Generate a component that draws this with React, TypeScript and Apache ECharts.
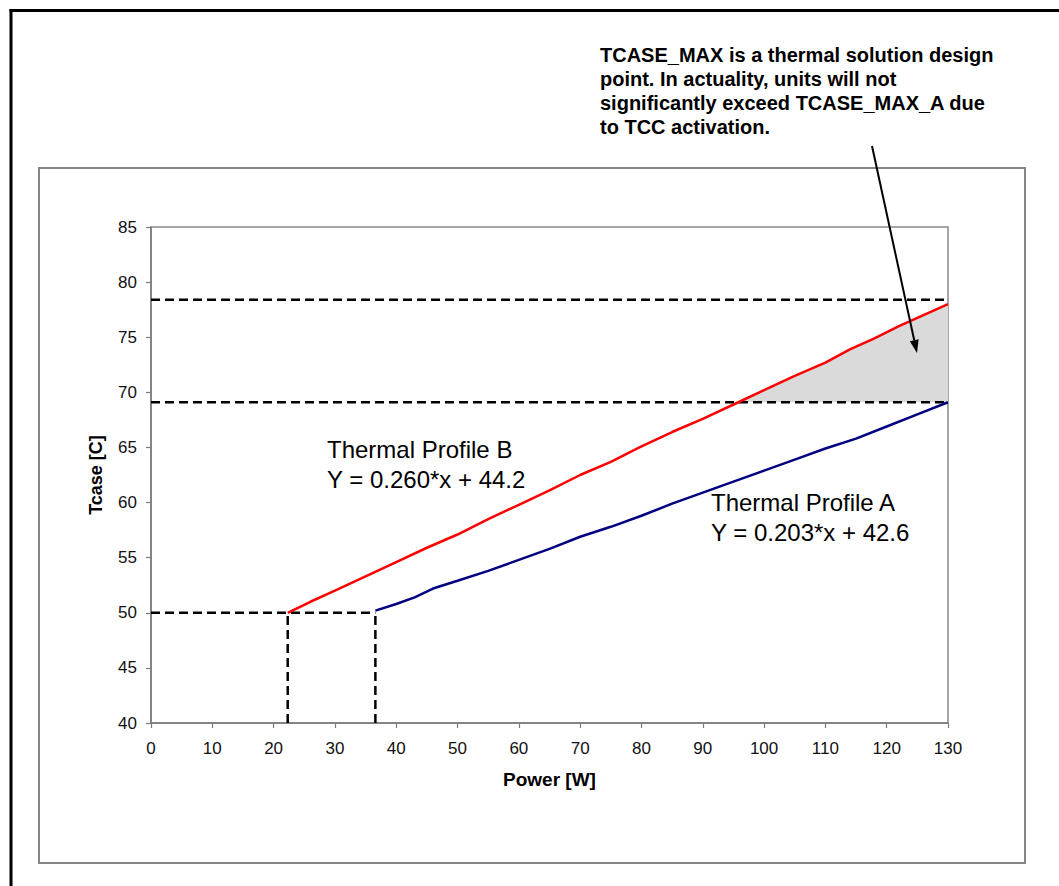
import React, { useEffect, useRef } from "react";
import * as echarts from "echarts";

const FONT = "'Liberation Sans', Arial, sans-serif";

// Thermal Profile B (red)
const powerB = [22.3, 26, 30, 35, 40, 45, 50, 55, 60, 65, 70, 75, 80, 85, 90, 95.8, 100, 105, 110, 114, 118, 122, 126, 130];
const tcaseB = [50.0, 51.0, 52.0, 53.3, 54.6, 55.9, 57.1, 58.5, 59.8, 61.1, 62.5, 63.7, 65.1, 66.4, 67.6, 69.1, 70.2, 71.5, 72.7, 73.9, 74.9, 76.0, 77.0, 78.0];

// Thermal Profile A (blue)
const powerA = [36.6, 40, 43, 46, 50, 55, 60, 65, 70, 75, 80, 85, 90, 95, 100, 105, 110, 115, 120, 125, 130];
const tcaseA = [50.2, 50.8, 51.4, 52.2, 52.9, 53.8, 54.8, 55.8, 56.9, 57.8, 58.8, 59.9, 60.9, 61.9, 62.9, 63.9, 64.9, 65.8, 66.9, 68.0, 69.1];

// Reference levels
const tcaseMaxB = 78.4;
const tcaseMaxA = 69.1;
const tcaseMin = 50;
const powerMinB = 22.3;
const powerMinA = 36.6;
const powerMax = 130;
const shadeStartPower = 95.8;

// Axis ranges
const xMin = 0;
const xMax = 130;
const xStep = 10;
const yMin = 40;
const yMax = 85;
const yStep = 5;

// Texts
const annotationLines = [
  "TCASE_MAX is a thermal solution design",
  "point. In actuality, units will not",
  "significantly exceed TCASE_MAX_A due",
  "to TCC activation.",
];
const profileBLines = ["Thermal Profile B", "Y = 0.260*x + 44.2"];
const profileALines = ["Thermal Profile A", "Y = 0.203*x + 42.6"];

const zip = (xs: number[], ys: number[]) => xs.map((x, i) => [x, ys[i]]);

export default function App() {
  const ref = useRef<HTMLDivElement>(null);

  useEffect(() => {
    if (!ref.current) return;
    const chart = echarts.init(ref.current, undefined, { renderer: "svg" });

    const redData = zip(powerB, tcaseB);
    const blueData = zip(powerA, tcaseA);
    const shadeData = redData.filter((p) => p[0] >= shadeStartPower);

    const dashed = (name: string, data: number[][]) => ({
      name,
      type: "line",
      data,
      symbol: "none",
      silent: true,
      z: 3,
      lineStyle: { color: "#000", width: 2.5, type: [9, 5] },
    });

    // arrow geometry
    const ax0 = 872, ay0 = 146, ax1 = 917, ay1 = 353;
    const dx = ax1 - ax0, dy = ay1 - ay0;
    const len = Math.sqrt(dx * dx + dy * dy);
    const ux = dx / len, uy = dy / len;
    const hl = 13, hw = 4.5;
    const bx = ax1 - ux * hl, by = ay1 - uy * hl;

    const option: any = {
      animation: false,
      backgroundColor: "#ffffff",
      textStyle: { fontFamily: FONT },
      grid: {
        left: 151,
        top: 227,
        width: 797,
        height: 496,
        show: true,
        borderColor: "#8a8a8a",
        borderWidth: 1.5,
        backgroundColor: "transparent",
      },
      xAxis: {
        type: "value",
        min: xMin,
        max: xMax,
        interval: xStep,
        name: "Power [W]",
        nameLocation: "middle",
        nameGap: 47,
        nameTextStyle: { fontWeight: "bold", fontSize: 19, color: "#000", fontFamily: FONT },
        axisLine: { show: true, onZero: false, lineStyle: { color: "#7a7a7a", width: 1.5 } },
        axisTick: { show: true, length: 5, lineStyle: { color: "#7a7a7a", width: 1.2 } },
        axisLabel: { fontSize: 17, color: "#111", margin: 17, fontFamily: FONT },
        splitLine: { show: false },
      },
      yAxis: {
        type: "value",
        min: yMin,
        max: yMax,
        interval: yStep,
        name: "Tcase [C]",
        nameLocation: "middle",
        nameGap: 46,
        nameTextStyle: { fontWeight: "bold", fontSize: 18, color: "#000", fontFamily: FONT },
        axisLine: { show: true, onZero: false, lineStyle: { color: "#7a7a7a", width: 1.5 } },
        axisTick: { show: true, length: 5, lineStyle: { color: "#7a7a7a", width: 1.2 } },
        axisLabel: { fontSize: 17, color: "#111", margin: 14, fontFamily: FONT },
        splitLine: { show: false },
      },
      series: [
        {
          name: "TCASE_MAX region",
          type: "line",
          data: shadeData,
          symbol: "none",
          silent: true,
          z: 1,
          lineStyle: { width: 0, opacity: 0 },
          areaStyle: { color: "#dadada", opacity: 1, origin: tcaseMaxA },
        },
        dashed("TCASE_MAX_B", [[xMin, tcaseMaxB], [powerMax, tcaseMaxB]]),
        dashed("TCASE_MAX_A", [[xMin, tcaseMaxA], [powerMax, tcaseMaxA]]),
        dashed("TCASE_MIN", [[xMin, tcaseMin], [powerMinA, tcaseMin]]),
        dashed("Power min B", [[powerMinB, yMin], [powerMinB, tcaseMin]]),
        dashed("Power min A", [[powerMinA, yMin], [powerMinA, tcaseMin]]),
        {
          name: "Thermal Profile B",
          type: "line",
          data: redData,
          symbol: "none",
          z: 5,
          lineStyle: { color: "#ff0000", width: 2.5 },
        },
        {
          name: "Thermal Profile A",
          type: "line",
          data: blueData,
          symbol: "none",
          z: 5,
          lineStyle: { color: "#000080", width: 2.5 },
        },
      ],
      graphic: [
        // outer black frame (top and left)
        { type: "line", shape: { x1: 9.5, y1: 10.5, x2: 1059, y2: 10.5 }, style: { stroke: "#000", lineWidth: 3 }, z: 10 },
        { type: "line", shape: { x1: 11, y1: 9, x2: 11, y2: 886 }, style: { stroke: "#000", lineWidth: 3 }, z: 10 },
        // chart area box
        { type: "rect", shape: { x: 39, y: 168, width: 986, height: 695 }, style: { fill: "none", stroke: "#868686", lineWidth: 2 }, z: 0 },
        // annotation
        {
          type: "text",
          x: 600,
          y: 43,
          z: 10,
          style: {
            text: annotationLines.join("\n"),
            font: `bold 20px ${FONT}`,
            fill: "#000",
            lineHeight: 24,
          },
        },
        // arrow
        { type: "line", shape: { x1: ax0, y1: ay0, x2: bx, y2: by }, style: { stroke: "#000", lineWidth: 2 }, z: 10 },
        {
          type: "polygon",
          z: 10,
          shape: {
            points: [
              [ax1, ay1],
              [bx - uy * hw, by + ux * hw],
              [bx + uy * hw, by - ux * hw],
            ],
          },
          style: { fill: "#000" },
        },
        // profile labels
        {
          type: "text",
          x: 327,
          y: 434,
          z: 10,
          style: { text: profileBLines.join("\n"), font: `24px ${FONT}`, fill: "#000", lineHeight: 30 },
        },
        {
          type: "text",
          x: 711,
          y: 487,
          z: 10,
          style: { text: profileALines.join("\n"), font: `24px ${FONT}`, fill: "#000", lineHeight: 30 },
        },
      ],
    };

    chart.setOption(option);
    return () => chart.dispose();
  }, []);

  return (
    <div
      ref={ref}
      style={{ position: "fixed", left: 0, top: 0, width: 1059, height: 886, background: "#fff" }}
    />
  );
}
